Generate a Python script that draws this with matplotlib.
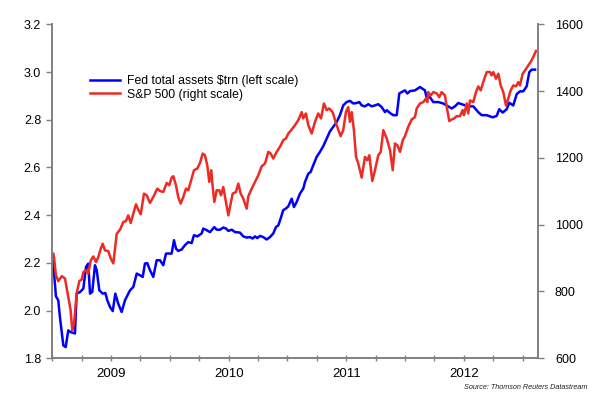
import matplotlib
matplotlib.use("Agg")
import matplotlib.pyplot as plt
from matplotlib.ticker import FixedLocator, NullFormatter, FixedFormatter

plt.rcParams['font.family'] = ['Liberation Sans', 'DejaVu Sans']

# Fed total assets ($trn), dates as fractional years
fed_dates = [2009.003, 2009.031, 2009.051, 2009.065, 2009.094, 2009.114, 2009.136, 2009.156,
             2009.193, 2009.207, 2009.236, 2009.264, 2009.287, 2009.306, 2009.321, 2009.340,
             2009.363, 2009.378, 2009.400, 2009.429, 2009.451, 2009.468, 2009.491, 2009.514,
             2009.536, 2009.561, 2009.590, 2009.618, 2009.661, 2009.689, 2009.718, 2009.746,
             2009.769, 2009.788, 2009.808, 2009.831, 2009.859, 2009.888, 2009.916, 2009.944,
             2009.967, 2010.015, 2010.035, 2010.052, 2010.071, 2010.100, 2010.128, 2010.156,
             2010.185, 2010.205, 2010.233, 2010.270, 2010.284, 2010.313, 2010.341, 2010.378,
             2010.398, 2010.426, 2010.454, 2010.477, 2010.497, 2010.526, 2010.554, 2010.596,
             2010.624, 2010.653, 2010.681, 2010.704, 2010.724, 2010.743, 2010.766, 2010.794,
             2010.823, 2010.851, 2010.879, 2010.902, 2010.922, 2010.942, 2010.964, 2010.987,
             2011.007, 2011.036, 2011.055, 2011.078, 2011.106, 2011.134, 2011.149, 2011.177,
             2011.197, 2011.219, 2011.248, 2011.276, 2011.304, 2011.333, 2011.361, 2011.389,
             2011.418, 2011.446, 2011.474, 2011.503, 2011.531, 2011.560, 2011.588, 2011.611,
             2011.631, 2011.659, 2011.687, 2011.716, 2011.744, 2011.772, 2011.801, 2011.829,
             2011.844, 2011.872, 2011.900, 2011.929, 2011.951, 2011.971, 2011.999, 2012.019,
             2012.042, 2012.084, 2012.127, 2012.169, 2012.184, 2012.212, 2012.240, 2012.282,
             2012.325, 2012.367, 2012.396, 2012.424, 2012.452, 2012.495, 2012.537, 2012.580,
             2012.622, 2012.651, 2012.694, 2012.745, 2012.779, 2012.801, 2012.830, 2012.864,
             2012.886, 2012.920, 2012.949, 2012.977, 2013.005, 2013.034, 2013.056, 2013.077,
             2013.105]
fed_assets = [2.232, 2.060, 2.043, 1.973, 1.854, 1.847, 1.917, 1.910,
              1.904, 2.071, 2.078, 2.092, 2.183, 2.197, 2.071, 2.078,
              2.190, 2.169, 2.085, 2.071, 2.074, 2.043, 2.015, 1.998,
              2.071, 2.029, 1.994, 2.043, 2.085, 2.099, 2.155, 2.148,
              2.141, 2.197, 2.199, 2.169, 2.141, 2.211, 2.211, 2.190,
              2.239, 2.239, 2.295, 2.260, 2.250, 2.256, 2.274, 2.287,
              2.283, 2.316, 2.311, 2.323, 2.344, 2.337, 2.329, 2.350,
              2.339, 2.339, 2.348, 2.344, 2.334, 2.339, 2.329, 2.327,
              2.311, 2.306, 2.308, 2.302, 2.311, 2.304, 2.313, 2.308,
              2.298, 2.308, 2.323, 2.350, 2.357, 2.386, 2.421, 2.428,
              2.437, 2.469, 2.434, 2.455, 2.490, 2.511, 2.539, 2.574,
              2.581, 2.609, 2.644, 2.665, 2.689, 2.721, 2.751, 2.770,
              2.790, 2.819, 2.860, 2.874, 2.879, 2.868, 2.870, 2.874,
              2.860, 2.856, 2.865, 2.856, 2.860, 2.865, 2.853, 2.832,
              2.840, 2.828, 2.819, 2.819, 2.910, 2.916, 2.923, 2.910,
              2.920, 2.923, 2.937, 2.923, 2.892, 2.894, 2.874, 2.874,
              2.868, 2.856, 2.847, 2.856, 2.870, 2.863, 2.856, 2.856,
              2.832, 2.819, 2.819, 2.810, 2.816, 2.844, 2.830, 2.844,
              2.871, 2.860, 2.907, 2.919, 2.919, 2.940, 2.999, 3.010,
              3.010]

# S&P 500 index
spx_dates = [2009.009, 2009.014, 2009.031, 2009.051, 2009.080, 2009.108, 2009.136, 2009.156,
             2009.170, 2009.185, 2009.207, 2009.230, 2009.250, 2009.264, 2009.287, 2009.306,
             2009.327, 2009.349, 2009.372, 2009.391, 2009.412, 2009.429, 2009.448, 2009.476,
             2009.497, 2009.519, 2009.548, 2009.576, 2009.604, 2009.627, 2009.646, 2009.667,
             2009.689, 2009.712, 2009.731, 2009.752, 2009.780, 2009.803, 2009.831, 2009.859,
             2009.893, 2009.916, 2009.944, 2009.973, 2009.995, 2010.015, 2010.029, 2010.052,
             2010.071, 2010.092, 2010.114, 2010.137, 2010.156, 2010.177, 2010.205, 2010.233,
             2010.256, 2010.279, 2010.298, 2010.318, 2010.335, 2010.352, 2010.364, 2010.378,
             2010.398, 2010.420, 2010.435, 2010.454, 2010.469, 2010.497, 2010.517, 2010.534,
             2010.562, 2010.582, 2010.602, 2010.624, 2010.653, 2010.667, 2010.696, 2010.724,
             2010.752, 2010.781, 2010.809, 2010.837, 2010.857, 2010.879, 2010.908, 2010.936,
             2010.964, 2010.987, 2011.007, 2011.027, 2011.064, 2011.092, 2011.121, 2011.134,
             2011.157, 2011.177, 2011.206, 2011.234, 2011.262, 2011.285, 2011.310, 2011.333,
             2011.355, 2011.384, 2011.418, 2011.452, 2011.474, 2011.497, 2011.517, 2011.531,
             2011.546, 2011.565, 2011.583, 2011.602, 2011.631, 2011.659, 2011.679, 2011.696,
             2011.721, 2011.744, 2011.772, 2011.793, 2011.815, 2011.844, 2011.872, 2011.895,
             2011.914, 2011.934, 2011.957, 2011.980, 2011.999, 2012.027, 2012.056, 2012.084,
             2012.099, 2012.127, 2012.155, 2012.178, 2012.189, 2012.197, 2012.218, 2012.240,
             2012.269, 2012.291, 2012.311, 2012.339, 2012.359, 2012.376, 2012.396, 2012.416,
             2012.439, 2012.467, 2012.490, 2012.501, 2012.524, 2012.537, 2012.552, 2012.580,
             2012.603, 2012.622, 2012.643, 2012.665, 2012.694, 2012.722, 2012.736, 2012.750,
             2012.773, 2012.793, 2012.813, 2012.835, 2012.858, 2012.878, 2012.898, 2012.920,
             2012.943, 2012.963, 2012.977, 2013.000, 2013.020, 2013.048, 2013.068, 2013.090,
             2013.113]
spx = [913, 905, 849, 831, 846, 839, 784, 744,
       684, 704, 794, 831, 836, 858, 863, 854,
       893, 905, 888, 903, 928, 943, 923, 921,
       899, 884, 973, 985, 1008, 1011, 1028, 1005,
       1033, 1061, 1045, 1031, 1093, 1088, 1065, 1083,
       1108, 1101, 1098, 1125, 1118, 1141, 1145, 1118,
       1083, 1063, 1083, 1108, 1103, 1128, 1163, 1168,
       1185, 1213, 1208, 1178, 1128, 1163, 1113, 1068,
       1103, 1103, 1088, 1113, 1083, 1028, 1063, 1093,
       1098, 1123, 1093, 1078, 1048, 1085, 1108, 1128,
       1148, 1175, 1183, 1218, 1213, 1198, 1218, 1233,
       1253, 1258, 1273, 1281, 1298, 1313, 1337, 1318,
       1333, 1298, 1273, 1308, 1333, 1318, 1363, 1343,
       1348, 1337, 1298, 1265, 1283, 1337, 1352, 1308,
       1337, 1283, 1203, 1183, 1141, 1203, 1193, 1208,
       1131, 1163, 1208, 1218, 1283, 1258, 1223, 1163,
       1243, 1238, 1218, 1253, 1265, 1293, 1315, 1322,
       1348, 1363, 1367, 1378, 1367, 1397, 1387, 1397,
       1393, 1382, 1397, 1387, 1343, 1310, 1315, 1318,
       1325, 1325, 1343, 1328, 1363, 1333, 1372, 1367,
       1397, 1414, 1402, 1427, 1457, 1457, 1447, 1457,
       1437, 1452, 1417, 1397, 1357, 1378, 1402, 1417,
       1414, 1427, 1417, 1452, 1462, 1477, 1487, 1502,
       1520]

year_labels = ['2009', '2010', '2011', '2012']
year_label_pos = [2009.5, 2010.5, 2011.5, 2012.5]
quarter_ticks = [2009 + 0.25 * i for i in range(17)]
left_ticks = [1.8, 2.0, 2.2, 2.4, 2.6, 2.8, 3.0, 3.2]
right_ticks = [600, 800, 1000, 1200, 1400, 1600]

legend_labels = ['Fed total assets $trn (left scale)', 'S&P 500 (right scale)']

BLUE = '#0000FF'
RED = '#EE2A24'
GRAY = '#808080'

fig = plt.figure(figsize=(5.9, 3.93), dpi=100)
ax = fig.add_axes([0.0886, 0.0883, 0.8238, 0.8499])
ax2 = ax.twinx()

l1, = ax.plot(fed_dates, fed_assets, color=BLUE, lw=1.8, solid_joinstyle='round')
l2, = ax2.plot(spx_dates, spx, color=RED, lw=1.8, solid_joinstyle='round')

ax.set_xlim(2009.0, 2013.133)
ax.set_ylim(1.8, 3.2)
ax2.set_ylim(600, 1600)

ax.set_yticks(left_ticks)
ax.set_yticklabels([f'{v:.1f}' for v in left_ticks])
ax2.set_yticks(right_ticks)
ax2.set_yticklabels([str(v) for v in right_ticks])

ax.xaxis.remove_overlapping_locs = False
ax.xaxis.set_major_locator(FixedLocator(quarter_ticks))
ax.xaxis.set_major_formatter(NullFormatter())
ax.xaxis.set_minor_locator(FixedLocator(year_label_pos))
ax.xaxis.set_minor_formatter(FixedFormatter(year_labels))
ax.tick_params(axis='x', which='major', direction='inout', length=5, width=1, color=GRAY)
ax.tick_params(axis='x', which='minor', length=0, pad=7, labelsize=9.5)

ax.tick_params(axis='y', direction='out', length=4, width=1, color=GRAY, labelsize=9, pad=4)
ax2.tick_params(axis='y', direction='out', length=4, width=1, color=GRAY, labelsize=9, pad=8)

for a in (ax, ax2):
    a.spines['top'].set_visible(False)
    for s in ('left', 'right', 'bottom'):
        a.spines[s].set_color(GRAY)
        a.spines[s].set_linewidth(1.2)

leg = ax2.legend([l1, l2], legend_labels, loc='upper left',
                 bbox_to_anchor=(0.152, 0.808), bbox_transform=fig.transFigure,
                 frameon=False, fontsize=8.8, handlelength=2.45, handletextpad=0.63,
                 labelspacing=0.1, borderpad=0, borderaxespad=0)

fig.text(0.995, 0.006, 'Source: Thomson Reuters Datastream', ha='right', va='bottom',
         fontsize=5.2, style='italic', color='#222222')

fig.savefig('out.png', dpi=100)
